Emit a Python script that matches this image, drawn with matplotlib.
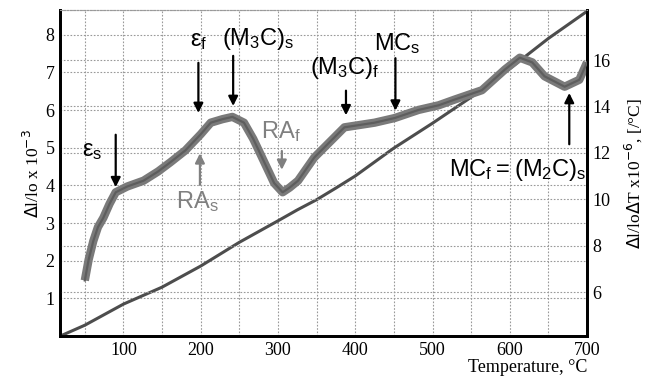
import matplotlib.pyplot as plt

plt.rcParams['font.family'] = 'Liberation Serif'

# dilation curve, left axis (dl/lo x 10^-3)
dil_temp = [18, 50, 100, 150, 200, 250, 300, 325, 350, 375, 400, 450, 500, 550, 600, 650, 700]
dil_vals = [0, 0.29, 0.85, 1.3, 1.86, 2.49, 3.06, 3.35, 3.62, 3.93, 4.25, 4.99, 5.65, 6.34,
            7.1, 7.9, 8.62]

# expansion coefficient curve, right axis (x 10^-6 /°C)
cte_temp = [50, 55, 61, 67, 74, 82, 90, 105, 126, 145, 161, 180, 200, 213, 228, 241,
            256, 268, 278, 295, 306, 315, 326, 347, 365, 386, 425, 451, 482, 508,
            529, 564, 594, 613, 629, 645, 671, 690, 700]
cte_vals = [6.5, 7.4, 8.2, 8.8, 9.2, 9.8, 10.3, 10.55, 10.8, 11.2, 11.6, 12.1, 12.8, 13.3,
            13.45, 13.55, 13.3, 12.6, 11.9, 10.7, 10.3, 10.5, 10.8, 11.8, 12.4, 13.1,
            13.3, 13.5, 13.85, 14.05, 14.3, 14.7, 15.6, 16.1, 15.9, 15.3, 14.85, 15.15, 15.9]

left_ticks = [1, 2, 3, 4, 5, 6, 7, 8]
right_ticks = [6, 8, 10, 12, 14, 16]
x_ticks = [100, 200, 300, 400, 500, 600, 700]

fig = plt.figure(figsize=(6.53, 3.76), dpi=100)
ax = fig.add_axes([0.092, 0.106, 0.807, 0.867])
ax2 = ax.twinx()

ax.set_xlim(18, 700)
ax.set_ylim(0, 8.65)
ax2.set_ylim(4.1, 18.15)

grid_kw = dict(color='#999999', linestyle=(0, (1.5, 1.5)), linewidth=0.8)
for t in range(50, 700, 50):
    ax.axvline(t, **grid_kw, zorder=0)
for v in left_ticks:
    ax.axhline(v, **grid_kw, zorder=0)
for v in right_ticks:
    ax2.axhline(v, **grid_kw, zorder=0)

ax.plot(dil_temp, dil_vals, color='#4d4d4d', lw=2.2, zorder=3)
ax2.plot(cte_temp, cte_vals, color='#7a7a7a', lw=6, solid_capstyle='butt', zorder=2)
ax2.plot(cte_temp, cte_vals, color='#5e5e5e', lw=1.6, zorder=3)

ax.set_xticks(x_ticks)
ax.set_yticks(left_ticks)
ax2.set_yticks(right_ticks)
for a in (ax, ax2):
    a.tick_params(labelsize=13, length=0, pad=4)
    for s in ('left', 'right', 'bottom'):
        a.spines[s].set_linewidth(2)
    a.spines['top'].set_linestyle((0, (1.5, 1.5)))
    a.spines['top'].set_color('#999999')
    a.spines['top'].set_linewidth(0.8)

ax.set_ylabel(r'$\Delta$l/lo x 10$^{-3}$', fontsize=12.5, labelpad=2)
ax2.set_ylabel(r'$\Delta$l/lo$\Delta$T x10$^{-6}$, [/°C]', fontsize=12.5,
               rotation=90, labelpad=8)
ax.set_xlabel('Temperature, °C', fontsize=13, loc='right', labelpad=0)

# annotations (arrow from y0 to ay at temperature ax_x, text centred at tx, ty)
sans = ['Liberation Sans', 'DejaVu Sans']
black = dict(arrowstyle='-|>', color='black', lw=1.6, mutation_scale=14)
grey = dict(arrowstyle='-|>', color='#808080', lw=1.6, mutation_scale=14)


def label(txt, tx, ty, ax_x, ay, y0, props, color='black'):
    ax2.annotate('', xy=(ax_x, ay), xytext=(ax_x, y0), arrowprops=props, zorder=5)
    ax2.text(tx, ty, txt, fontsize=17, family=sans, color=color,
             ha='center', va='center', zorder=5)


label(r'$\mathregular{\varepsilon_s}$', 60, 12.1, 90, 10.4, 12.9, black)
label(r'$\mathregular{\varepsilon_f}$', 197, 16.8, 197, 13.6, 16.0, black)
label(r'$\mathregular{(M_3C)_s}$', 275, 16.9, 242, 13.9, 16.3, black)
label(r'$\mathregular{(M_3C)_f}$', 387, 15.65, 388, 13.5, 14.8, black)
label(r'$\mathregular{MC_s}$', 455, 16.7, 452, 13.7, 16.2, black)
label(r'$\mathregular{MC_f = (M_2C)_s}$', 610, 11.25, 677, 14.7, 12.25, black)
label(r'$\mathregular{RA_s}$', 195, 9.9, 199, 12.1, 10.5, grey, color='#808080')
label(r'$\mathregular{RA_f}$', 304, 12.9, 305, 11.15, 12.2, grey, color='#808080')

fig.savefig('out.png', dpi=100)
